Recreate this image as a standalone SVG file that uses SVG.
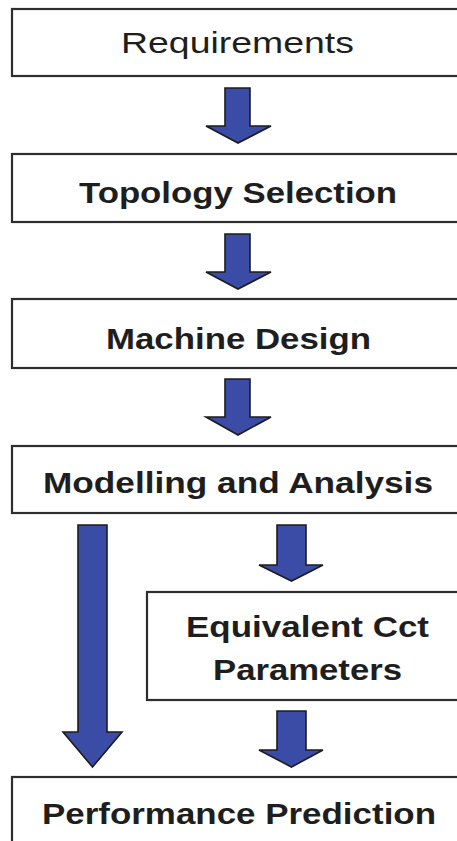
<svg xmlns="http://www.w3.org/2000/svg" width="457" height="841" viewBox="0 0 457 841">
<style>
.box{fill:#fff;stroke:#2e2e2e;stroke-width:2.2}
.t{font-family:"Liberation Sans",Arial,sans-serif;font-size:30px;fill:#1e1e1e;font-weight:bold}
.r{font-weight:normal}
.arr{fill:#3a4ca6;stroke:#1c1c1c;stroke-width:1.6;stroke-linejoin:miter}
</style>
<rect width="457" height="841" fill="#fff"/>
<g id="requirements"><rect class="box" x="12" y="9" width="470" height="67"/><text class="t r" x="121" y="53" textLength="233" lengthAdjust="spacingAndGlyphs">Requirements</text></g>
<g id="topology"><rect class="box" x="12" y="154" width="470" height="68"/><text class="t" x="79" y="203" textLength="318" lengthAdjust="spacingAndGlyphs">Topology Selection</text></g>
<g id="machine"><rect class="box" x="12" y="299" width="470" height="69"/><text class="t" x="106" y="349" textLength="265" lengthAdjust="spacingAndGlyphs">Machine Design</text></g>
<g id="modelling"><rect class="box" x="12" y="446" width="470" height="67"/><text class="t" x="43" y="493" textLength="390" lengthAdjust="spacingAndGlyphs">Modelling and Analysis</text></g>
<g id="equivalent"><rect class="box" x="147" y="592" width="330" height="108"/><text class="t" x="186" y="637" textLength="243" lengthAdjust="spacingAndGlyphs">Equivalent Cct</text><text class="t" x="213" y="680" textLength="189" lengthAdjust="spacingAndGlyphs">Parameters</text></g>
<g id="performance"><rect class="box" x="12" y="777" width="470" height="100"/><text class="t" x="42" y="824" textLength="394" lengthAdjust="spacingAndGlyphs">Performance Prediction</text></g>
<g id="connectors">
<polygon class="arr" points="225,88 250,88 250,126 271,126 238,143 206,126 225,126"/>
<polygon class="arr" points="225,234 250,234 250,272 271,272 238,289 206,272 225,272"/>
<polygon class="arr" points="225,379 250,379 250,417 271,417 238,435 206,417 225,417"/>
<polygon class="arr" points="78,525 107,525 107,732 122,732 92.5,767 63,732 78,732"/>
<polygon class="arr" points="277,525 306,525 306,565 323,565 291.5,581 259,565 277,565"/>
<polygon class="arr" points="277,711 306,711 306,750 323,750 291.5,767 259,750 277,750"/>
</g>
</svg>
